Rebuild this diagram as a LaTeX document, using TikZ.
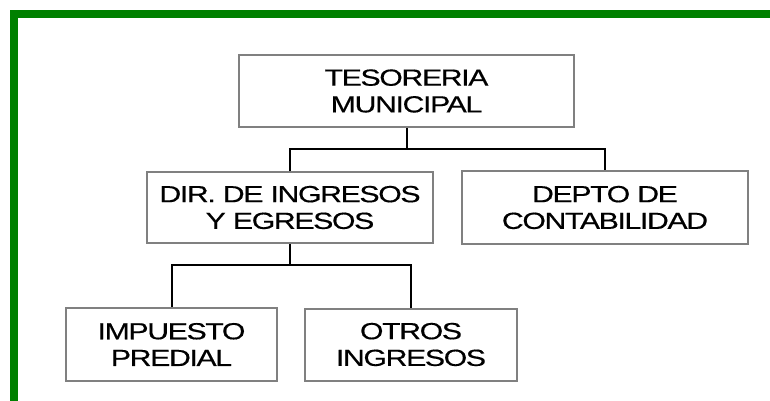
\documentclass[tikz,border=0pt]{standalone}
\usepackage{fontspec}
\setmainfont{Liberation Sans}[FakeStretch=1.3,FakeBold=0.4,LetterSpace=-6]
\definecolor{frame}{RGB}{0,128,0}
\definecolor{boxline}{RGB}{128,128,128}
\begin{document}
\begin{tikzpicture}[x=1pt,y=-1pt,
  unit/.style={draw=boxline,line width=2pt,fill=white,inner sep=0pt,align=center,
    font=\fontsize{23.3}{26.7}\selectfont},
  link/.style={draw=black,line width=2pt}]
\useasboundingbox (0,0) rectangle (770,401);
\fill[frame] (10,10) rectangle (770,18);
\fill[frame] (10,10) rectangle (18,401);
\node[unit,minimum width=335pt,minimum height=72pt] (tes) at (406.5,91) {TESORERIA\\MUNICIPAL};
\node[unit,minimum width=286pt,minimum height=71pt] (dir) at (290,207.5) {DIR. DE INGRESOS\\Y EGRESOS};
\node[unit,minimum width=286pt,minimum height=73pt] (dep) at (605,207.5) {DEPTO DE\\CONTABILIDAD};
\node[unit,minimum width=211pt,minimum height=73pt] (imp) at (171.5,344.5) {IMPUESTO\\PREDIAL};
\node[unit,minimum width=212pt,minimum height=72pt] (otr) at (411,344.5) {OTROS\\INGRESOS};
\coordinate (j1) at (406.5,149);
\coordinate (j2) at (290,265);
\draw[link] (tes.south) -- (j1);
\draw[link] (dir.north) |- (j1) -| (dep.north);
\draw[link] (dir.south) -- (j2);
\draw[link] (imp.north) |- (j2) -| (otr.north);
\end{tikzpicture}
\end{document}
